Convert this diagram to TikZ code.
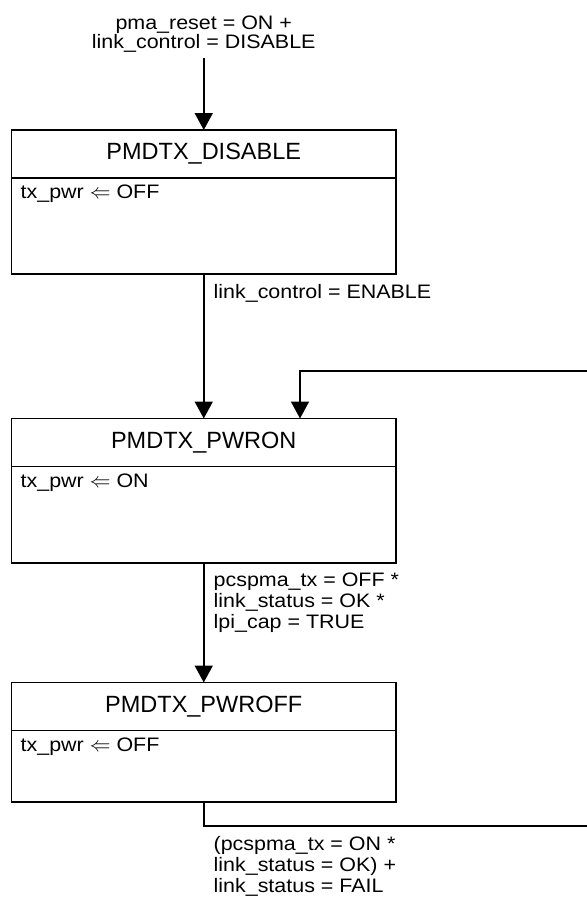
\documentclass[tikz,border=0pt]{standalone}
\usepackage{fontspec}
\setmainfont{Liberation Sans}[FakeStretch=1.1]
\newfontfamily\titlefont{Liberation Sans}
\usetikzlibrary{arrows.meta,positioning}
\tikzset{
  state/.style={draw, line width=1.8pt, minimum width=384.5pt, minimum height=48pt,
    inner sep=0pt, outer sep=0pt, font=\titlefont\fontsize{23.5}{24}\selectfont},
  body/.style={draw, line width=1.8pt, minimum width=384.5pt, inner sep=0pt, outer sep=0pt},
  act/.style={anchor=north west, inner sep=3pt, xshift=6pt, yshift=-4pt},
  cond/.style={anchor=north west, align=left, inner sep=3pt, xshift=6pt, yshift=-6pt},
  flow/.style={->, line width=1.8pt}
}
\begin{document}
\begin{tikzpicture}[x=1pt, y=-1pt, font=\fontsize{19.5}{21}\selectfont, line join=miter, >={Triangle[width=18pt,length=17pt]}]
	\def\xc{203.75}
	\useasboundingbox (0,0) rectangle (587,898);
	\clip (0,0) rectangle (587,898);
	% states
	\node[state] (dis) at (\xc,154) {PMDTX\_DISABLE};
	\node[body, minimum height=96pt, below=0pt of dis] (disb) {};
	\node[act] (disa) at (disb.north west) {tx\_pwr $\Leftarrow$ OFF};
	\node[state] (on) at (\xc,442.5) {PMDTX\_PWRON};
	\node[body, minimum height=96.5pt, below=0pt of on] (onb) {};
	\node[act] (ona) at (onb.north west) {tx\_pwr $\Leftarrow$ ON};
	\node[state] (off) at (\xc,706.5) {PMDTX\_PWROFF};
	\node[body, minimum height=71.5pt, below=0pt of off] (offb) {};
	\node[act] (offa) at (offb.north west) {tx\_pwr $\Leftarrow$ OFF};
	% transitions
	\coordinate (init) at (\xc,58);
	\node[above=2pt of init, align=center, inner sep=3pt, font=\fontsize{19.5}{18}\selectfont] (c0) {pma\_reset = ON +\\link\_control = DISABLE};
	\draw[flow] (init) -- (dis.north);
	\draw[flow] (disb) -- node[cond, pos=0] (c1) {link\_control = ENABLE} (on);
	\draw[flow] (onb) -- node[cond, pos=0] (c2) {pcspma\_tx = OFF *\\link\_status = OK *\\lpi\_cap = TRUE} (off);
	\coordinate (rtr) at (600,826);
	\coordinate (rtl) at (300,371);
	\draw[flow] (offb) |- node[cond, pos=0.5] (c3) {(pcspma\_tx = ON *\\link\_status = OK) +\\link\_status = FAIL} (rtr) |- (rtl) -- (rtl |- on.north);
\end{tikzpicture}
\end{document}
